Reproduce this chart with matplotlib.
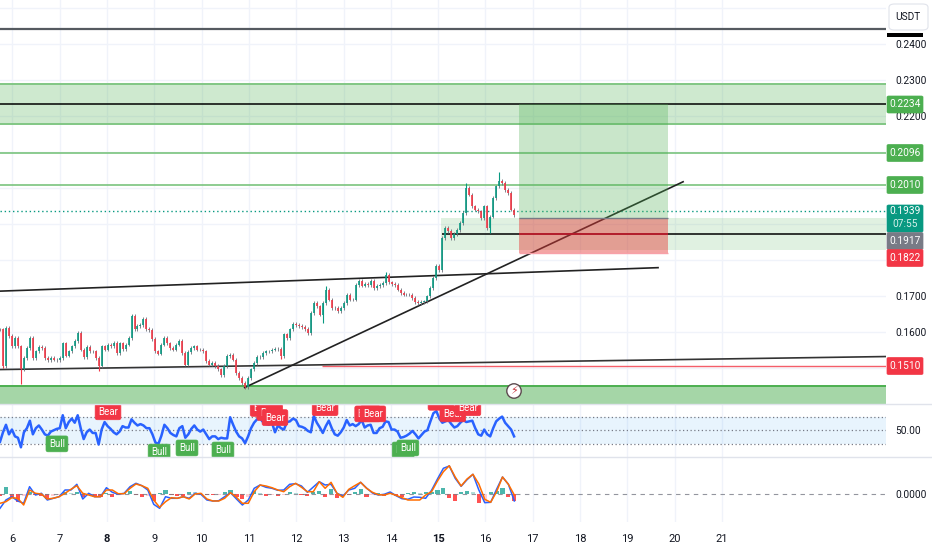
"""
Grafico TradingView ricostruito: prezzo, RSI e MACD su tre pannelli.
"""

import numpy as np
import matplotlib.pyplot as plt
from matplotlib.patches import FancyBboxPatch, Rectangle

FONT = ["Roboto", "DejaVu Sans"]
plt.rcParams["font.family"] = FONT

DAY_START = 5.736
DAY_END = 24.47
CANDLE_STEP = 0.0632
MACD_STEP = 0.125

closes = [
    .1606, .1504, .1610, .1587, .1559, .1582, .1559, .1495, .1527, .1554, .1582, .1527, .1545, .1557, .1554,
    .1527, .1520, .1527, .1522, .1520, .1527, .1567, .1533, .1545, .1559, .1573, .1596, .1550, .1530, .1557,
    .1545, .1545, .1527, .1504, .1559, .1550, .1564, .1559, .1569, .1541, .1567, .1552, .1564, .1582, .1643,
    .1607, .1615, .1619, .1635, .1607, .1604, .1580, .1545, .1539, .1564, .1582, .1567, .1554, .1550, .1564,
    .1573, .1541, .1508, .1543, .1554, .1559, .1550, .1550, .1545, .1518, .1508, .1513, .1504, .1495, .1480,
    .1504, .1532, .1536, .1522, .1485, .1471, .1457, .1446, .1471, .1495, .1513, .1530, .1530, .1541, .1545,
    .1545, .1550, .1552, .1552, .1531, .1592, .1582, .1606, .1622, .1619, .1615, .1612, .1607, .1596, .1652,
    .1680, .1670, .1647, .1680, .1715, .1689, .1666, .1666, .1657, .1666, .1680, .1703, .1689, .1689, .1730,
    .1740, .1728, .1733, .1730, .1740, .1721, .1726, .1730, .1735, .1758, .1737, .1733, .1730, .1717, .1707,
    .1703, .1703, .1703, .1694, .1682, .1680, .1682, .1684, .1698, .1721, .1749, .1782, .1772, .1860, .1888,
    .1879, .1860, .1872, .1883, .1902, .1930, .1999, .1981, .1948, .1939, .1934, .1916, .1948, .1888, .1920,
    .1971, .2004, .2018, .2013, .1994, .1985, .1939, .1925,
]
wick_index = [1, 7, 33, 44, 82, 94, 108, 109, 129, 156, 164, 167]
wick_price = [.1500, .1454, .1490, .1647, .1442, .1525, .1624, .1728, .1766, .2012, .1874, .2043]

rsi_values = [
    33, 47, 58, 44, 51, 41, 39, 25, 47, 53, 64, 44, 53, 57, 51, 44, 42, 48, 50, 52, 53, 72, 53, 62, 67, 61, 72,
    53, 37, 47, 51, 46, 46, 29, 51, 62, 56, 52, 47, 44, 48, 56, 54, 54, 66, 61, 57, 59, 57, 53, 53, 44, 32, 30,
    42, 58, 53, 46, 43, 41, 53, 56, 39, 44, 52, 57, 51, 48, 51, 44, 37, 41, 41, 37, 39, 38, 38, 69, 58, 48, 41,
    38, 31, 41, 53, 61, 66, 67, 62, 59, 58, 61, 47, 57, 53, 51, 62, 63, 67, 65, 56, 55, 53, 49, 47, 71, 61, 54,
    46, 56, 64, 53, 44, 42, 47, 54, 65, 57, 59, 56, 59, 65, 54, 57, 58, 46, 46, 53, 55, 63, 62, 51, 51, 48, 39,
    40, 42, 45, 49, 44, 38, 43, 48, 50, 63, 75, 78, 67, 61, 63, 65, 59, 54, 56, 61, 65, 62, 63, 64, 53, 44, 42,
    51, 44, 41, 53, 63, 67, 70, 61, 56, 51, 41,
]
bear_days = [8.02, 11.30, 11.44, 11.55, 12.61, 13.51, 13.62, 15.06, 15.31, 15.63]
bear_levels = [77, 82, 76, 68.5, 83, 74, 74, 91, 74, 83]
bull_days = [6.94, 9.10, 9.69, 10.45, 14.26, 14.36]
bull_levels = [30, 18, 24, 21, 21, 24]

macd_line = [
    -1.43, -.6, -.27, -.7, -.93, .73, -.1, .07, -.6, -.43, -.27, .4, .4, .97, -.5, .07, -.27, -.27, .63, .17,
    -.03, .07, .73, 1.07, .83, .4, -1.03, -1.43, -.27, -.43, -.43, -.27, -.43, .07, -.03, -.6, -.7, -.67, -.27,
    .13, -.5, -1.1, -.6, .57, .9, .67,
    .57, .37, .4, .97, 1.03, .8, .17, .7, 1.23, .9, .97, .07, -.2, .4, .57, 1.17, .6, .1, -.1, -.03, .2, -.17,
    -.47, -.53, -.3, -.33, -.43, .37, 1.5, 2.57, 2.8, 1.57, .77, 1.43, 1.97, .4, -.87, -.83, .47, 1.7, .97, -.7,
]
signal_line = [
    -.93, -.77, -.37, -.43, -1.1, .4, .07, 0, -.5, -.43, -.27, .07, .47, .83, .07, -.1, -.27, -.27, .4, .4,
    .03, .03, .57, 1.0, .83, .57, -.6, -1.33, -.77, -.37, -.43, -.27, -.5, 0, .07, -.5, -.7, -.7, -.43,
    .13, -.33, -.93, -.93, .23, .9, .8,
    .63, .4, .23, .73, 1.07, .67, .23, .23, 1.23, .57, 1.17, .07, -.33, .47, .83, 1.17, .57, .17, -.07, -.1,
    .07, -.13, -.37, -.6, -.6, -.6, -.1, .23, 1.3, 2.23, 2.83, 1.7, .8, 1.5, 1.97, 1.0, -.53, -.83, .23, 1.7,
    .97, -.1,
]
macd_hist = [
    -.17, .67, -.33, -.83, -.17, .17, -.1, -.17, -.5, -.17, -.1, .2, .1, .23, -.27, -.1, -.2, -.33, .13, -.27,
    -.1, .1, .27, -.13, -.27, -.17, -.67, .07, .4, -.13, -.17, -.2, .2, .17, -.1, -.1, -.13, -.07, .17, .4,
    -.27, -.5, -.27, .27, .1, -.17,
    -.07, -.2, -.1, .2, .1, -.13, -.17, .17, .33, -.27, .47, -.4, -.1, -.1, .2, .47, -.27, -.1, .1, -.17, .13,
    -.17, -.27, .1, .2, .07, .17, .2, .4, .6, -.4, -.73, .2, .27, .2, -.93, -.8, .2, .33, .6, -.33, -.73,
]

resistance_top = .22889
resistance_bottom = .21778
target_price = .22333
level_prices = [.20972, .20083]
top_line_price = .24417
last_price = .1936
entry_price = .19167
stop_price = .18194
retest_bottom = .18264
retest_line = .18722
red_level = .15056
support_top = .1450

trend_days = [10.91, 20.18]
trend_prices = [.14444, .20167]
upper_days = [5.736, 19.65]
upper_prices = [.17125, .17778]
lower_days = [5.736, 24.47]
lower_prices = [.14944, .15306]

day_ticks = list(range(6, 22))
price_ticks = [.25, .24, .23, .22, .21, .20, .19, .18, .17, .16, .15, .14]
shown_ticks = [.24, .23, .22, .17, .16]

GREEN = "#4caf50"
RED = "#f23645"
TEAL = "#089981"
GRAY = "#787b86"
INK = "#131722"
GRID = "#f0f3fa"


def fx(px):
    return px / 932


def fy(py):
    return 1 - py / 550


def panel(fig, top, bottom):
    ax = fig.add_axes([0, fy(bottom), fx(886), (bottom - top) / 550])
    ax.set_xlim(DAY_START, DAY_END)
    ax.set_xticks(day_ticks)
    ax.grid(True, axis="x", color=GRID, lw=1)
    ax.tick_params(length=0, labelbottom=False, left=False, labelleft=False,
                   right=True, labelright=True, pad=7, labelsize=7.3, labelcolor=INK)
    ax.tick_params(axis="y", length=0)
    for spine in ax.spines.values():
        spine.set_visible(False)
    ax.set_axisbelow(True)
    return ax


def price_tag(fig, py, text, color, top=None, bottom=None):
    top = py - 8.5 if top is None else top
    bottom = py + 8.5 if bottom is None else bottom
    fig.add_artist(FancyBboxPatch((fx(887), fy(bottom)), fx(36), (bottom - top) / 550,
                                  boxstyle="round,pad=0,rounding_size=0.002",
                                  transform=fig.transFigure, fc=color, ec=color, lw=0.5))
    fig.text(fx(905.5), fy(py), text, color="white", fontsize=7.3, ha="center", va="center")


def signal_labels(ax, days, levels, text, color):
    for day, level in zip(days, levels):
        t = ax.text(day, level, text, color="white", fontsize=7, ha="center", va="center", clip_on=True,
                    zorder=6, bbox=dict(boxstyle="round,pad=0.3,rounding_size=0.2", fc=color, ec=color, lw=0.5))
        t.get_bbox_patch().set_clip_on(True)
        t.get_bbox_patch().set_clip_box(ax.bbox)


def main():
    fig = plt.figure(figsize=(9.32, 5.5), dpi=100, facecolor="white")

    # pannello prezzo
    ax = panel(fig, 0, 403.5)
    ax.set_ylim(.14028, .25222)
    ax.set_yticks(price_ticks)
    ax.set_yticklabels(["%.4f" % p if p in shown_ticks else "" for p in price_ticks])
    ax.grid(True, axis="y", color=GRID, lw=1)

    ax.axhspan(resistance_bottom, resistance_top, fc=GREEN, alpha=0.27, lw=0)
    ax.axhline(resistance_top, color="#81c784", lw=1.4)
    ax.axhline(resistance_bottom, color="#81c784", lw=1.4)
    ax.axhline(target_price, color="black", lw=1.1)
    ax.axhline(top_line_price, color="#555a60", lw=1.6)
    for level in level_prices:
        ax.axhline(level, color="#6fbf73", lw=1.1)
    ax.axhspan(ax.get_ylim()[0], support_top, fc="#a5d6a7", lw=0)
    ax.axhline(support_top, color=GREEN, lw=1.4)
    ax.axhspan(retest_bottom, entry_price, xmin=(15.07 - DAY_START) / (DAY_END - DAY_START), fc=GREEN, alpha=0.17, lw=0)
    ax.hlines(retest_line, 15.09, DAY_END, color="black", lw=1.1)
    ax.hlines(red_level, 12.55, DAY_END, color=RED, lw=1.0, alpha=0.8)
    ax.axhline(last_price, color=TEAL, lw=1, ls=(0, (1, 2)))

    ax.plot(upper_days, upper_prices, color="#222222", lw=1.2)
    ax.plot(lower_days, lower_prices, color="#333333", lw=1.2)
    ax.plot(trend_days, trend_prices, color="#222222", lw=1.2)

    # posizione long
    ax.fill_between([16.72, 19.86], entry_price, target_price, fc=GREEN, alpha=0.3, lw=0, zorder=3)
    ax.fill_between([16.72, 19.86], stop_price, entry_price, fc="#e53935", alpha=0.45, lw=0, zorder=3)
    ax.hlines(entry_price, 16.72, 19.86, color=GRAY, lw=1, zorder=4)
    ax.hlines(stop_price, 16.72, 19.86, color="#f8a0a8", lw=1, zorder=4)
    ax.hlines(retest_line, 16.72, 19.86, color="#c2182b", lw=1.1, zorder=4)

    # candele
    candle_days = DAY_START + CANDLE_STEP * np.arange(len(closes))
    close_arr = np.array(closes)
    open_arr = np.r_[close_arr[0], close_arr[:-1]]
    colors = [TEAL if c >= o else RED for o, c in zip(open_arr, close_arr)]
    lows = np.minimum(open_arr, close_arr) - 0.0005
    highs = np.maximum(open_arr, close_arr) + 0.0005
    ax.vlines(candle_days, lows, highs, colors="#6b6f78", lw=0.6, zorder=2.5)
    ax.vlines(candle_days, open_arr, close_arr, colors=colors, lw=1.4, zorder=2.6, alpha=0.85)
    for i, p in zip(wick_index, wick_price):
        ax.vlines(candle_days[i], close_arr[i], p, colors=colors[i], lw=0.8, zorder=2.5)

    # pannello RSI
    rsi_ax = panel(fig, 403.5, 457)
    rsi_ax.set_ylim(10.75, 89.2)
    rsi_ax.set_yticks([50])
    rsi_ax.set_yticklabels(["50.00"])
    rsi_ax.axhspan(30, 70, fc="#2196f3", alpha=0.1, lw=0)
    for level in (70, 50, 30):
        rsi_ax.axhline(level, color=GRAY, lw=0.9, ls=(0, (1, 2)))
    rsi_days = DAY_START + CANDLE_STEP * np.arange(len(rsi_values))
    rsi_ax.plot(rsi_days, rsi_values, color="#2962ff", lw=1.8)
    signal_labels(rsi_ax, bear_days, bear_levels, "Bear", RED)
    signal_labels(rsi_ax, bull_days, bull_levels, "Bull", GREEN)

    # pannello MACD
    macd_ax = panel(fig, 457, 522)
    macd_ax.set_ylim(-.0028, .0037)
    macd_ax.set_yticks([0])
    macd_ax.set_yticklabels(["0.0000"])
    macd_ax.axhline(0, color=GRAY, lw=0.8, ls=(0, (4, 4)), alpha=0.8)
    hist = np.array(macd_hist) / 1000
    hist_days = DAY_START + MACD_STEP * np.arange(len(hist))
    prev = np.r_[0, hist[:-1]]
    hist_colors = []
    for h, p in zip(hist, prev):
        if h >= 0:
            hist_colors.append("#4db6ac" if h >= p else "#b2dfdb")
        else:
            hist_colors.append("#ff5252" if h <= p else "#ffcdd2")
    macd_ax.bar(hist_days, hist, width=MACD_STEP * 0.7, color=hist_colors, lw=0)
    macd_days = DAY_START + MACD_STEP * np.arange(len(macd_line))
    signal_days = DAY_START + MACD_STEP * np.arange(len(signal_line))
    macd_ax.plot(macd_days, np.array(macd_line) / 1000, color="#2962ff", lw=1.1)
    macd_ax.plot(signal_days, np.array(signal_line) / 1000, color="#ff6d00", lw=1.1)
    macd_ax.tick_params(axis="x", labelbottom=True, pad=9, labelsize=8)
    macd_ax.set_xticklabels([str(d) for d in day_ticks])
    for label, day in zip(macd_ax.get_xticklabels(), day_ticks):
        if day in (8, 15):
            label.set_fontweight("bold")

    # separatori e colonna dei prezzi
    for py in (403.5, 457):
        fig.add_artist(plt.Line2D([0, 1], [fy(py), fy(py)], color="#e0e3eb", lw=1, transform=fig.transFigure))
    fig.add_artist(FancyBboxPatch((fx(889), fy(30)), fx(39), 26 / 550, boxstyle="round,pad=0,rounding_size=0.006",
                                  transform=fig.transFigure, fc="white", ec="#e0e3eb", lw=0.8))
    fig.text(fx(908), fy(17), "USDT", color=INK, fontsize=7.3, ha="center", va="center")
    fig.add_artist(Rectangle((fx(887), fy(36.5)), fx(36), 3 / 550, transform=fig.transFigure, fc="black", lw=0))

    price_tag(fig, 104.5, "0.2234", GREEN)
    price_tag(fig, 153, "0.2096", GREEN)
    price_tag(fig, 185, "0.2010", GREEN)
    price_tag(fig, 211, "0.1939", TEAL, top=205, bottom=232)
    fig.text(fx(905.5), fy(224), "07:55", color="#d5f0ea", fontsize=7.3, ha="center", va="center")
    price_tag(fig, 241, "0.1917", GRAY)
    price_tag(fig, 258, "0.1822", RED)
    price_tag(fig, 366, "0.1510", RED)

    # icona evento
    fig.text(fx(514), fy(391), "\u26a1", color="#c8323c", fontsize=8, ha="center", va="center",
             family=["DejaVu Sans"],
             bbox=dict(boxstyle="circle,pad=0.2", fc="white", ec="#5d4a4f", lw=1))

    fig.savefig("out.png", dpi=100)


if __name__ == "__main__":
    main()
